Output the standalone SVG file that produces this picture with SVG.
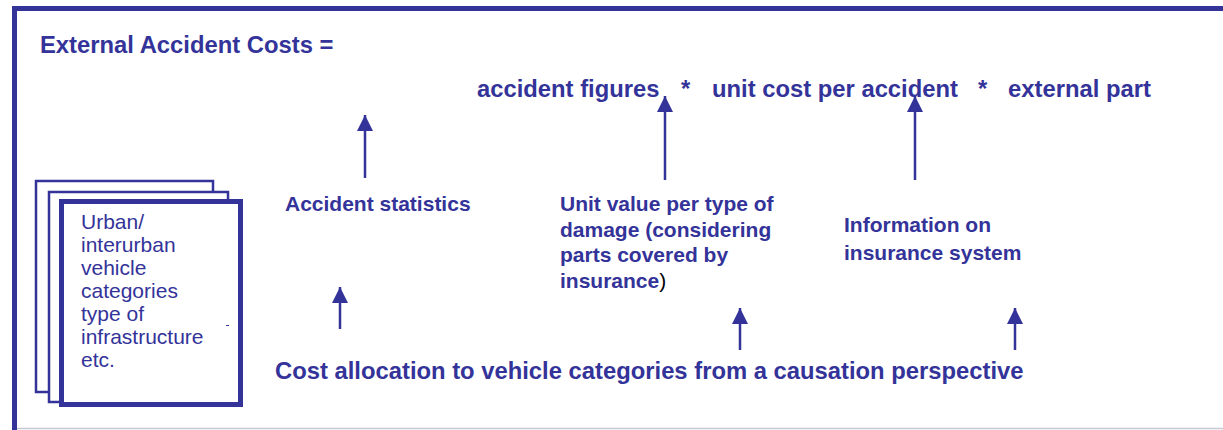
<svg xmlns="http://www.w3.org/2000/svg" width="1223" height="430" viewBox="0 0 1223 430">
<style>
.t{font-family:"Liberation Sans",Arial,sans-serif;fill:#333399;}
.b{font-weight:bold;}
.f{font-size:23.8px;}
.l{font-size:21px;}
.box{fill:#fff;stroke:#333399;}
.c{stroke:#333399;stroke-width:2.5;fill:none;}
</style>
<defs>
<marker id="ah" markerUnits="userSpaceOnUse" markerWidth="16" markerHeight="16" refX="16" refY="8" orient="auto" viewBox="0 0 16 16">
<path d="M0,0 L16,8 L0,16 Z" fill="#333399"/>
</marker>
</defs>
<rect width="1223" height="430" fill="#fff"/>
<g id="frame">
<rect x="12" y="6" width="1211" height="5" fill="#333399"/>
<rect x="12" y="6" width="5" height="424" fill="#333399"/>
<line x1="17" y1="428.5" x2="1223" y2="428.5" stroke="#c8c8d4" stroke-width="1.5"/>
</g>
<g id="title">
<text class="t b f" x="40" y="53">External Accident Costs =</text>
</g>
<g id="formula">
<text class="t b f" x="477" y="97">accident figures</text>
<text class="t b f" x="681" y="97">*</text>
<text class="t b f" x="712" y="97">unit cost per accident</text>
<text class="t b f" x="978" y="97">*</text>
<text class="t b f" x="1008" y="97">external part</text>
</g>
<g id="stack">
<rect class="box" x="36" y="181" width="177" height="211" stroke-width="2.5"/>
<rect class="box" x="49" y="192" width="179" height="210" stroke-width="2.5"/>
<rect class="box" x="61.5" y="201.5" width="179" height="203" stroke-width="5"/>
<text class="t l" x="81" y="229">Urban/</text>
<text class="t l" x="81" y="252">interurban</text>
<text class="t l" x="81" y="275">vehicle</text>
<text class="t l" x="81" y="298">categories</text>
<text class="t l" x="81" y="321">type of</text>
<text class="t l" x="81" y="344">infrastructure</text>
<text class="t l" x="81" y="367">etc.</text>
<rect x="226" y="325" width="3" height="1" fill="#333399"/>
</g>
<g id="accident-statistics">
<text class="t b l" x="285" y="211">Accident statistics</text>
</g>
<g id="unit-value">
<text class="t b l" x="560" y="211">Unit value per type of</text>
<text class="t b l" x="560" y="237">damage (considering</text>
<text class="t b l" x="560" y="262">parts covered by</text>
<text class="t b l" x="560" y="288">insurance<tspan fill="#000" font-weight="normal">)</tspan></text>
</g>
<g id="insurance-info">
<text class="t b l" x="844" y="232">Information on</text>
<text class="t b l" x="844" y="260">insurance system</text>
</g>
<g id="cost-allocation">
<text class="t b f" x="275" y="379">Cost allocation to vehicle categories from a causation perspective</text>
</g>
<g id="connectors">
<line class="c" x1="365" y1="178" x2="365" y2="115" marker-end="url(#ah)"/>
<line class="c" x1="665" y1="180" x2="665" y2="96" marker-end="url(#ah)"/>
<line class="c" x1="915" y1="180" x2="915" y2="96" marker-end="url(#ah)"/>
<line class="c" x1="340" y1="329" x2="340" y2="287" marker-end="url(#ah)"/>
<line class="c" x1="740" y1="350" x2="740" y2="308" marker-end="url(#ah)"/>
<line class="c" x1="1015" y1="350" x2="1015" y2="308" marker-end="url(#ah)"/>
</g>
</svg>
